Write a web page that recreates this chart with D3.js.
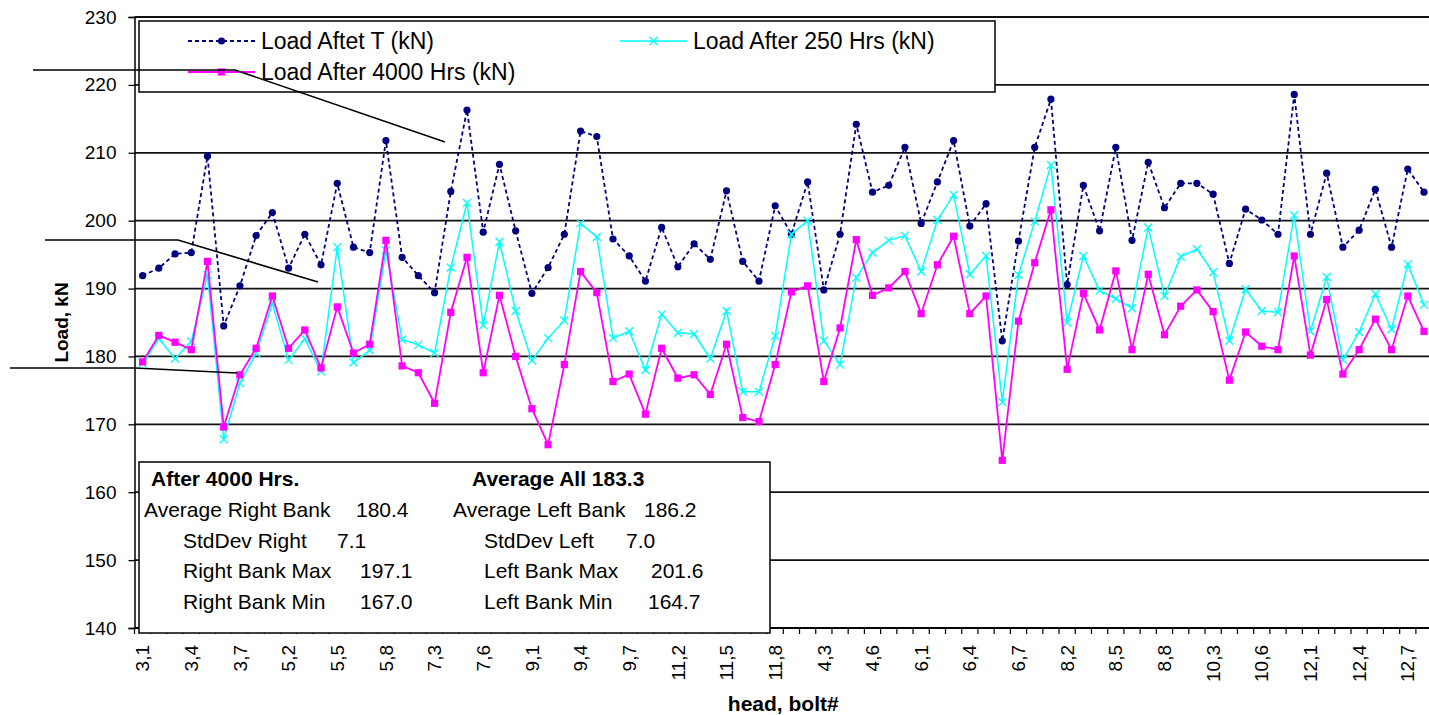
<!DOCTYPE html>
<html>
<head>
<meta charset="utf-8">
<script src="https://cdn.jsdelivr.net/npm/d3@7"></script>
<style>
  body { margin: 0; background: #fff; overflow: hidden; }
  svg { display: block; font-family: "Liberation Sans", Arial, sans-serif; }
</style>
</head>
<body>
<script>
(function(){

    //heads in the order they were measured, 8 bolts each
    var heads = [3, 5, 7, 9, 11, 4, 6, 8, 10, 12];
    var bolts = [1, 2, 3, 4, 5, 6, 7, 8];

    //bolt load readings (kN), one per head,bolt
    var loadAfterT = [
        191.9, 193.0, 195.1, 195.3, 209.5, 184.5, 190.4, 197.8, 201.2, 193.0, 198.0, 193.5, 205.5,
        196.1, 195.3, 211.8, 194.6, 191.9, 189.4, 204.3, 216.3, 198.3, 208.3, 198.5, 189.3, 193.1, 198.0,
        213.2, 212.4, 197.3, 194.8, 191.1, 199.0, 193.2, 196.6, 194.3, 204.4, 194.0, 191.1, 202.2,
        198.0, 205.7, 189.8, 198.0, 214.2, 204.2, 205.2, 210.8, 199.6, 205.7, 211.8, 199.2, 202.5,
        182.3, 197.0, 210.8, 217.9, 190.6, 205.2, 198.5, 210.8, 197.1, 208.6, 201.9, 205.5, 205.5,
        203.9, 193.7, 201.7, 200.1, 198.0, 218.6, 198.0, 207.0, 196.1, 198.6, 204.6, 196.1, 207.6, 204.2
    ];
    var loadAfter250 = [
        179.0, 182.6, 179.7, 182.2, 192.0, 167.8, 176.1, 180.5, 187.8, 179.5, 182.6, 177.8, 196.1,
        179.1, 180.9, 195.6, 182.5, 181.7, 180.5, 193.1, 202.6, 184.6, 196.9, 186.7, 179.4, 182.7, 185.3,
        199.6, 197.6, 182.7, 183.7, 178.0, 186.2, 183.5, 183.3, 179.7, 186.7, 174.8, 174.8, 183.0,
        198.0, 200.0, 182.3, 178.8, 191.6, 195.3, 197.1, 197.8, 192.5, 200.1, 203.8, 192.1, 194.8,
        173.3, 192.0, 199.9, 208.2, 185.0, 194.8, 189.7, 188.5, 187.1, 199.0, 188.9, 194.7, 195.8,
        192.4, 182.3, 189.9, 186.7, 186.5, 200.8, 183.7, 191.7, 179.5, 183.6, 189.2, 184.0, 193.6, 187.6
    ];
    var loadAfter4000 = [
        179.2, 183.1, 182.1, 181.0, 194.0, 169.6, 177.3, 181.2, 188.9, 181.2, 183.9, 178.3, 187.3,
        180.5, 181.8, 197.1, 178.6, 177.6, 173.1, 186.5, 194.6, 177.6, 189.0, 180.0, 172.3, 167.0, 178.8,
        192.5, 189.4, 176.3, 177.4, 171.5, 181.2, 176.8, 177.3, 174.4, 181.8, 171.0, 170.4, 178.8,
        189.5, 190.4, 176.3, 184.2, 197.2, 189.0, 190.1, 192.5, 186.3, 193.5, 197.7, 186.3, 188.9,
        164.7, 185.2, 193.8, 201.6, 178.1, 189.3, 183.9, 192.6, 181.0, 192.1, 183.2, 187.4, 189.8,
        186.6, 176.5, 183.6, 181.5, 181.0, 194.8, 180.2, 188.4, 177.4, 181.0, 185.5, 181.0, 188.9, 183.7
    ];

    var seriesNames = ["Load Aftet T (kN)", "Load After 250 Hrs (kN)", "Load After 4000 Hrs (kN)"];
    var yTicks = [140, 150, 160, 170, 180, 190, 200, 210, 220, 230];

    //summary box text
    var statsTitles = ["After 4000 Hrs.", "Average All 183.3"];
    var statsRightLabels = ["Average Right Bank", "StdDev Right", "Right Bank Max", "Right Bank Min"];
    var statsRightValues = ["180.4", "7.1", "197.1", "167.0"];
    var statsLeftLabels = ["Average Left Bank", "StdDev Left", "Left Bank Max", "Left Bank Min"];
    var statsLeftValues = ["186.2", "7.0", "201.6", "164.7"];

    //category labels "head,bolt"
    var categories = [];
    heads.forEach(function(h){
        bolts.forEach(function(b){
            categories.push(h + "," + b);
        });
    });

    //frame
    var width = 1429, height = 715;
    var plotLeft = 134.5, plotRight = 1432.1, plotTop = 17, plotBottom = 628;

    var svg = d3.select("body")
        .append("svg")
        .attr("width", width)
        .attr("height", height);

    var x = d3.scalePoint()
        .domain(categories)
        .range([plotLeft, plotRight])
        .padding(0.5);

    var y = d3.scaleLinear()
        .domain([140, 230])
        .range([plotBottom, plotTop]);

    //horizontal gridlines
    svg.selectAll(".grid")
        .data(yTicks)
        .enter()
        .append("line")
        .attr("class", "grid")
        .attr("x1", plotLeft)
        .attr("x2", width)
        .attr("y1", function(d){ return y(d); })
        .attr("y2", function(d){ return y(d); })
        .style("stroke", "#111")
        .style("stroke-width", 1.8);

    //series
    var series = [
        {name: seriesNames[0], values: loadAfterT, color: "#000080", dash: "4,3", width: 1.8, marker: "dot"},
        {name: seriesNames[1], values: loadAfter250, color: "#00FFFF", dash: null, width: 1.5, marker: "cross"},
        {name: seriesNames[2], values: loadAfter4000, color: "#FF00FF", dash: null, width: 1.8, marker: "square"}
    ];

    var line = d3.line()
        .x(function(d, i){ return x(categories[i]); })
        .y(function(d){ return y(d); });

    function drawMarker(g, type, color){
        if (type == "dot"){
            g.append("circle").attr("r", 3.6).style("fill", color);
        } else if (type == "square"){
            g.append("rect").attr("x", -3.6).attr("y", -3.6).attr("width", 7.2).attr("height", 7.2)
                .style("fill", color);
        } else {
            g.append("path").attr("d", "M-4,-4L4,4M-4,4L4,-4")
                .style("stroke", color).style("stroke-width", 1.3).style("fill", "none");
        }
    }

    series.forEach(function(s){
        svg.append("path")
            .datum(s.values)
            .attr("d", line)
            .style("fill", "none")
            .style("stroke", s.color)
            .style("stroke-width", s.width)
            .style("stroke-dasharray", s.dash);

        svg.selectAll(".m-" + s.marker)
            .data(s.values)
            .enter()
            .append("g")
            .attr("class", "m-" + s.marker)
            .attr("transform", function(d, i){
                return "translate(" + x(categories[i]) + "," + y(d) + ")";
            })
            .each(function(){ drawMarker(d3.select(this), s.marker, s.color); });
    });

    //y axis
    var yAxis = svg.append("g")
        .attr("transform", "translate(" + plotLeft + ",0)")
        .call(d3.axisLeft(y).tickValues(yTicks).tickSize(6).tickPadding(12));
    yAxis.select(".domain").style("stroke", "#000").style("stroke-width", 1.5);
    yAxis.selectAll(".tick line").style("stroke", "#000").style("stroke-width", 1.3);
    yAxis.selectAll("text").style("font-size", "19px").style("fill", "#000")
        .style("font-family", "'Liberation Sans', Arial, sans-serif");

    //x axis line and ticks between categories
    var step = x.step();
    svg.append("line")
        .attr("x1", plotLeft).attr("x2", width)
        .attr("y1", plotBottom).attr("y2", plotBottom)
        .style("stroke", "#000").style("stroke-width", 1.5);

    svg.selectAll(".xtick")
        .data(categories)
        .enter()
        .append("line")
        .attr("class", "xtick")
        .attr("x1", function(d){ return x(d) - step / 2; })
        .attr("x2", function(d){ return x(d) - step / 2; })
        .attr("y1", plotBottom)
        .attr("y2", plotBottom + 6)
        .style("stroke", "#000").style("stroke-width", 1.2);

    //every third label, rotated
    svg.selectAll(".xlabel")
        .data(categories.filter(function(d, i){ return i % 3 == 0; }))
        .enter()
        .append("text")
        .attr("class", "xlabel")
        .attr("transform", function(d){
            return "translate(" + x(d) + "," + 645 + ") rotate(-90)";
        })
        .attr("dy", "0.35em")
        .attr("text-anchor", "end")
        .style("font-size", "19px")
        .text(function(d){ return d; });

    //axis titles
    svg.append("text")
        .attr("transform", "translate(68," + ((plotTop + plotBottom) / 2) + ") rotate(-90)")
        .attr("text-anchor", "middle")
        .style("font-size", "19px")
        .style("font-weight", "bold")
        .text("Load, kN");

    svg.append("text")
        .attr("x", (plotLeft + plotRight) / 2)
        .attr("y", 711)
        .attr("text-anchor", "middle")
        .style("font-size", "21px")
        .style("font-weight", "bold")
        .text("head, bolt#");

    //legend
    var legend = svg.append("g");
    legend.append("rect")
        .attr("x", 139).attr("y", 21).attr("width", 856).attr("height", 71)
        .style("fill", "#fff").style("stroke", "#000").style("stroke-width", 1.5);

    var legendPos = [[188, 41], [620, 41], [188, 72]];
    series.forEach(function(s, i){
        var g = legend.append("g")
            .attr("transform", "translate(" + legendPos[i][0] + "," + legendPos[i][1] + ")");
        g.append("line")
            .attr("x1", 0).attr("x2", 67).attr("y1", 0).attr("y2", 0)
            .style("stroke", s.color)
            .style("stroke-width", s.width)
            .style("stroke-dasharray", s.dash);
        drawMarker(g.append("g").attr("transform", "translate(33.5,0)"), s.marker, s.color);
        g.append("text")
            .attr("x", 73)
            .attr("y", 8)
            .style("font-size", "23px")
            .text(s.name);
    });

    //summary box
    var stats = svg.append("g");
    stats.append("rect")
        .attr("x", 139).attr("y", 462).attr("width", 631).attr("height", 171)
        .style("fill", "#fff").style("stroke", "#000").style("stroke-width", 1.5);

    stats.selectAll(".stitle")
        .data(statsTitles)
        .enter()
        .append("text")
        .attr("x", function(d, i){ return i == 0 ? 151 : 472; })
        .attr("y", 486)
        .style("font-size", "21px")
        .style("font-weight", "bold")
        .text(function(d){ return d; });

    var rowY = [517, 548, 578, 609];
    var colX = {rl: [144, 183, 183, 183], rv: [356, 337, 360, 360],
                ll: [453, 484, 484, 484], lv: [644, 626, 651, 648]};

    function statsColumn(labels, xs){
        stats.selectAll(null)
            .data(labels)
            .enter()
            .append("text")
            .attr("x", function(d, i){ return xs[i]; })
            .attr("y", function(d, i){ return rowY[i]; })
            .style("font-size", "21px")
            .text(function(d){ return d; });
    }
    statsColumn(statsRightLabels, colX.rl);
    statsColumn(statsRightValues, colX.rv);
    statsColumn(statsLeftLabels, colX.ll);
    statsColumn(statsLeftValues, colX.lv);

    //stray leader lines on the original figure
    var leaders = [
        [[33, 70], [235, 70], [445, 142]],
        [[45, 240], [178, 240], [318, 282]],
        [[10, 368], [135, 368], [237, 373]]
    ];
    svg.selectAll(".leader")
        .data(leaders)
        .enter()
        .append("path")
        .attr("class", "leader")
        .attr("d", d3.line())
        .style("fill", "none")
        .style("stroke", "#000")
        .style("stroke-width", 1.6);

})();
</script>
</body>
</html>
